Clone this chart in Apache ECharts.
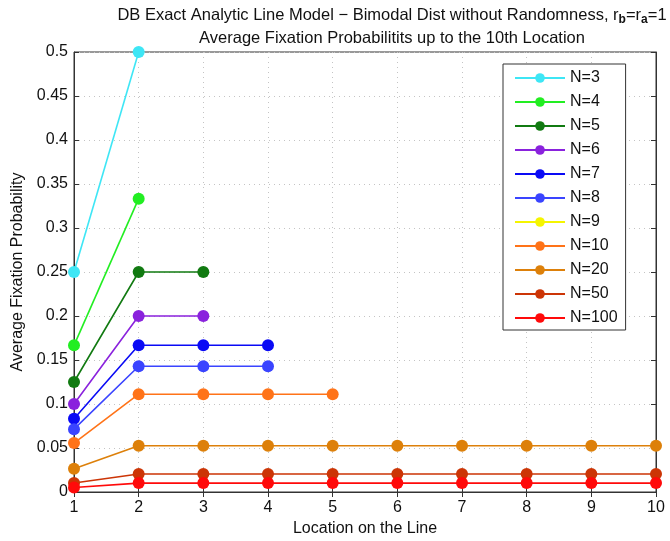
<!DOCTYPE html>
<html><head><meta charset="utf-8">
<script src="https://cdn.jsdelivr.net/npm/echarts@6/dist/echarts.min.js"></script>
<style>html,body{margin:0;padding:0;background:#fff}#c{width:670px;height:541px}</style>
</head><body><div id="c"></div>
<script>
const seriesNames = ['N=3','N=4','N=5','N=6','N=7','N=8','N=9','N=10','N=20','N=50','N=100'];
const locations = [1,2,3,4,5,6,7,8,9,10];
const vN3 = [0.25, 0.5];
const vN4 = [0.1667, 0.3333];
const vN5 = [0.125, 0.25, 0.25];
const vN6 = [0.1, 0.2, 0.2];
const vN7 = [0.0833, 0.1667, 0.1667, 0.1667];
const vN8 = [0.0714, 0.1429, 0.1429, 0.1429];
const vN9 = [];
const vN10 = [0.0556, 0.1111, 0.1111, 0.1111, 0.1111];
const vN20 = [0.0263, 0.0526, 0.0526, 0.0526, 0.0526, 0.0526, 0.0526, 0.0526, 0.0526, 0.0526];
const vN50 = [0.0102, 0.0204, 0.0204, 0.0204, 0.0204, 0.0204, 0.0204, 0.0204, 0.0204, 0.0204];
const vN100 = [0.0051, 0.0101, 0.0101, 0.0101, 0.0101, 0.0101, 0.0101, 0.0101, 0.0101, 0.0101];
const yTicks = [0, 0.05, 0.1, 0.15, 0.2, 0.25, 0.3, 0.35, 0.4, 0.45, 0.5];
const allValues = [vN3,vN4,vN5,vN6,vN7,vN8,vN9,vN10,vN20,vN50,vN100];
const colors = ['#3ee6f5','#22ee22','#117a11','#8a22dd','#0a0af5','#3a44ff','#f5f500','#ff7318','#dd800a','#cc3506','#ff0a0a'];

const chart = echarts.init(document.getElementById('c'));
const font = 'Liberation Sans, Arial, sans-serif';
const FS = 16;
const series = seriesNames.map((n,i)=>({
  name:n, type:'line', symbol:'circle', symbolSize:12,
  data: allValues[i].map((v,j)=>[locations[j], v]),
  itemStyle:{color:colors[i]}, lineStyle:{color:colors[i], width:1.6},
  emphasis:{disabled:true}, animation:false, clip:false
}));
const gridLine = {show:true, lineStyle:{color:'#c4c4c4', type:[1,4], width:1}};
chart.setOption({
  animation:false,
  textStyle:{fontFamily:font},
  title:{
    text:'{t|DB Exact Analytic Line Model − Bimodal Dist without Randomness, r}{s|b}{t|=r}{s|a}{t|=1}',
    subtext:'Average Fixation Probabilitits up to the 10th Location',
    left:387, top:0, textAlign:'center', itemGap:6,
    textStyle:{rich:{t:{fontSize:16.5,color:'#111',fontFamily:font,fontWeight:'normal'},s:{fontSize:12,color:'#111',fontFamily:font,verticalAlign:'bottom',padding:[9,0,0,0]}}},
    subtextStyle:{fontSize:16.5,color:'#111',fontFamily:font}
  },
  grid:{left:74, right:14, top:52, bottom:49, show:true, borderColor:'#333', borderWidth:1, outerBoundsMode:'none', containLabel:false},
  legend:{
    orient:'vertical', left:503, top:64, width:123, padding:[6,8,4,11],
    backgroundColor:'#fff', borderColor:'#333', borderWidth:1,
    itemWidth:50, itemHeight:12, itemGap:8,
    textStyle:{fontSize:FS,color:'#111',fontFamily:font},
    data:seriesNames
  },
  xAxis:[{
    type:'value', min:1, max:10, interval:1, position:'bottom',
    name:'Location on the Line', nameLocation:'middle', nameGap:28,
    nameTextStyle:{fontSize:FS,color:'#111'},
    axisLine:{show:true,lineStyle:{color:'#333'}},
    axisTick:{show:true,inside:true,length:5,lineStyle:{color:'#333'}},
    axisLabel:{fontSize:FS,color:'#111',margin:8},
    splitLine:gridLine
  },{
    type:'value', min:1, max:10, interval:1, position:'top',
    axisLine:{show:true,lineStyle:{color:'#333'}},
    axisTick:{show:true,inside:true,length:5,lineStyle:{color:'#333'}},
    axisLabel:{show:false}, splitLine:{show:false}
  }],
  yAxis:[{
    type:'value', min:0, max:0.5, interval:0.05, position:'left',
    name:'Average Fixation Probability', nameLocation:'middle', nameGap:48,
    nameTextStyle:{fontSize:FS,color:'#111'},
    axisLine:{show:true,lineStyle:{color:'#333'}},
    axisTick:{show:true,inside:true,length:5,lineStyle:{color:'#333'}},
    axisLabel:{fontSize:FS,color:'#111',margin:6,formatter:v=>{const t=yTicks.find(k=>Math.abs(k-v)<1e-9);return t===undefined?'':String(t);}},
    splitLine:gridLine
  },{
    type:'value', min:0, max:0.5, interval:0.05, position:'right',
    axisLine:{show:true,lineStyle:{color:'#333'}},
    axisTick:{show:true,inside:true,length:5,lineStyle:{color:'#333'}},
    axisLabel:{show:false}, splitLine:{show:false}
  }],
  series:series
});
</script></body></html>
